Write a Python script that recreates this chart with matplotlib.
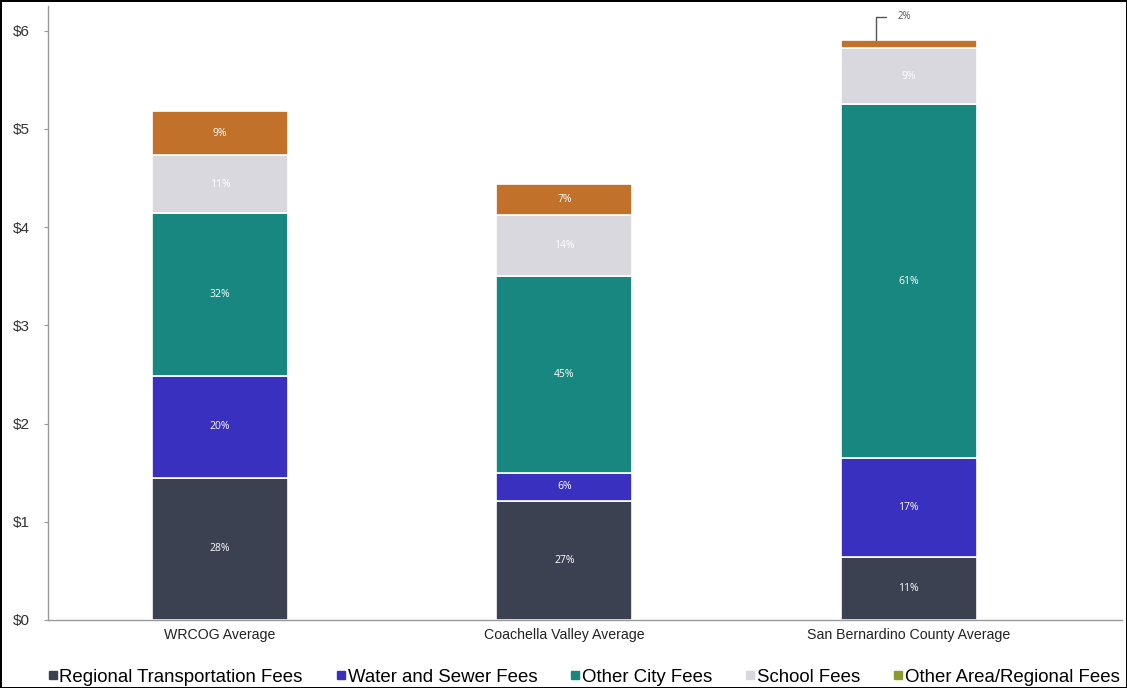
import matplotlib
matplotlib.use("Agg")
import matplotlib.pyplot as plt
from matplotlib.lines import Line2D
import numpy as np

categories = ["WRCOG Average", "Coachella Valley Average", "San Bernardino County Average"]
series_names = ["Regional Transportation Fees", "Water and Sewer Fees", "Other City Fees",
                "School Fees", "Other Area/Regional Fees"]
regional_transport = [1.45, 1.21, 0.64]
water_sewer = [1.03, 0.29, 1.01]
other_city = [1.66, 2.00, 3.60]
school = [0.59, 0.62, 0.57]
other_area = [0.45, 0.32, 0.08]
pct_labels = [
    ["28%", "27%", "11%"],
    ["20%", "6%", "17%"],
    ["32%", "45%", "61%"],
    ["11%", "14%", "9%"],
    ["9%", "7%", "2%"],
]
yticks = [0, 1, 2, 3, 4, 5, 6]
ytick_labels = ["$0", "$1", "$2", "$3", "$4", "$5", "$6"]

colors = ["#3b4150", "#3a30c0", "#17877f", "#d8d8de", "#c2712a"]
legend_colors = ["#3b4150", "#3a30c0", "#17877f", "#d8d8de", "#8c9a2e"]

plt.rcParams['font.family'] = ['Liberation Sans', 'DejaVu Sans']

fig = plt.figure(figsize=(11.27, 6.88), dpi=100)
fig.patch.set_edgecolor("black")
fig.patch.set_linewidth(2)
ax = fig.add_axes([48/1127, 1-620/688, (1122-48)/1127, (620-6)/688])

x = np.arange(len(categories))
series = [regional_transport, water_sewer, other_city, school, other_area]
bottom = np.zeros(len(categories))
width = 0.395
for i, vals in enumerate(series):
    vals = np.array(vals)
    ax.bar(x, vals, width, bottom=bottom, color=colors[i], edgecolor="white", linewidth=1.2)
    for j in range(len(categories)):
        if vals[j] > 0.15:
            ax.text(x[j], bottom[j] + vals[j] / 2, pct_labels[i][j], ha="center", va="center",
                    color="white", fontsize=7.5, family=["Open Sans", "DejaVu Sans"])
    bottom += vals

# callout for the small top segment of the last bar
top_last = bottom[2]
ax.annotate(pct_labels[4][2], xy=(1.904, top_last), xytext=(1.968, 6.14),
            fontsize=7, color="#555555", ha="left", va="center",
            family=["Open Sans", "DejaVu Sans"],
            arrowprops=dict(arrowstyle="-", color="#555555", lw=1,
                            connectionstyle="angle,angleA=0,angleB=90,rad=0",
                            shrinkA=6, shrinkB=0))

ax.set_xlim(-0.5, 2.62)
ax.set_ylim(0, 6.25)
ax.set_yticks(yticks)
ax.set_yticklabels(ytick_labels, fontsize=11, color="#333333")
ax.set_xticks(x)
ax.set_xticklabels(categories, fontsize=10.2, color="#222222")
ax.tick_params(axis="x", length=0, pad=6)
ax.tick_params(axis="y", length=3, color="#999999", pad=10)
for s in ["top", "right"]:
    ax.spines[s].set_visible(False)
for s in ["left", "bottom"]:
    ax.spines[s].set_color("#999999")
    ax.spines[s].set_linewidth(1)

handles = [Line2D([0], [0], marker="s", linestyle="none", markersize=6,
                  markerfacecolor=c, markeredgecolor=c) for c in legend_colors]
fig.legend(handles, series_names, loc="center", bbox_to_anchor=(0.5177, 1-677/688),
           ncol=5, frameon=False, fontsize=13.4, handletextpad=0.05,
           columnspacing=1.75, handlelength=0.6, borderpad=0.1)

fig.savefig("out.png", dpi=100)
